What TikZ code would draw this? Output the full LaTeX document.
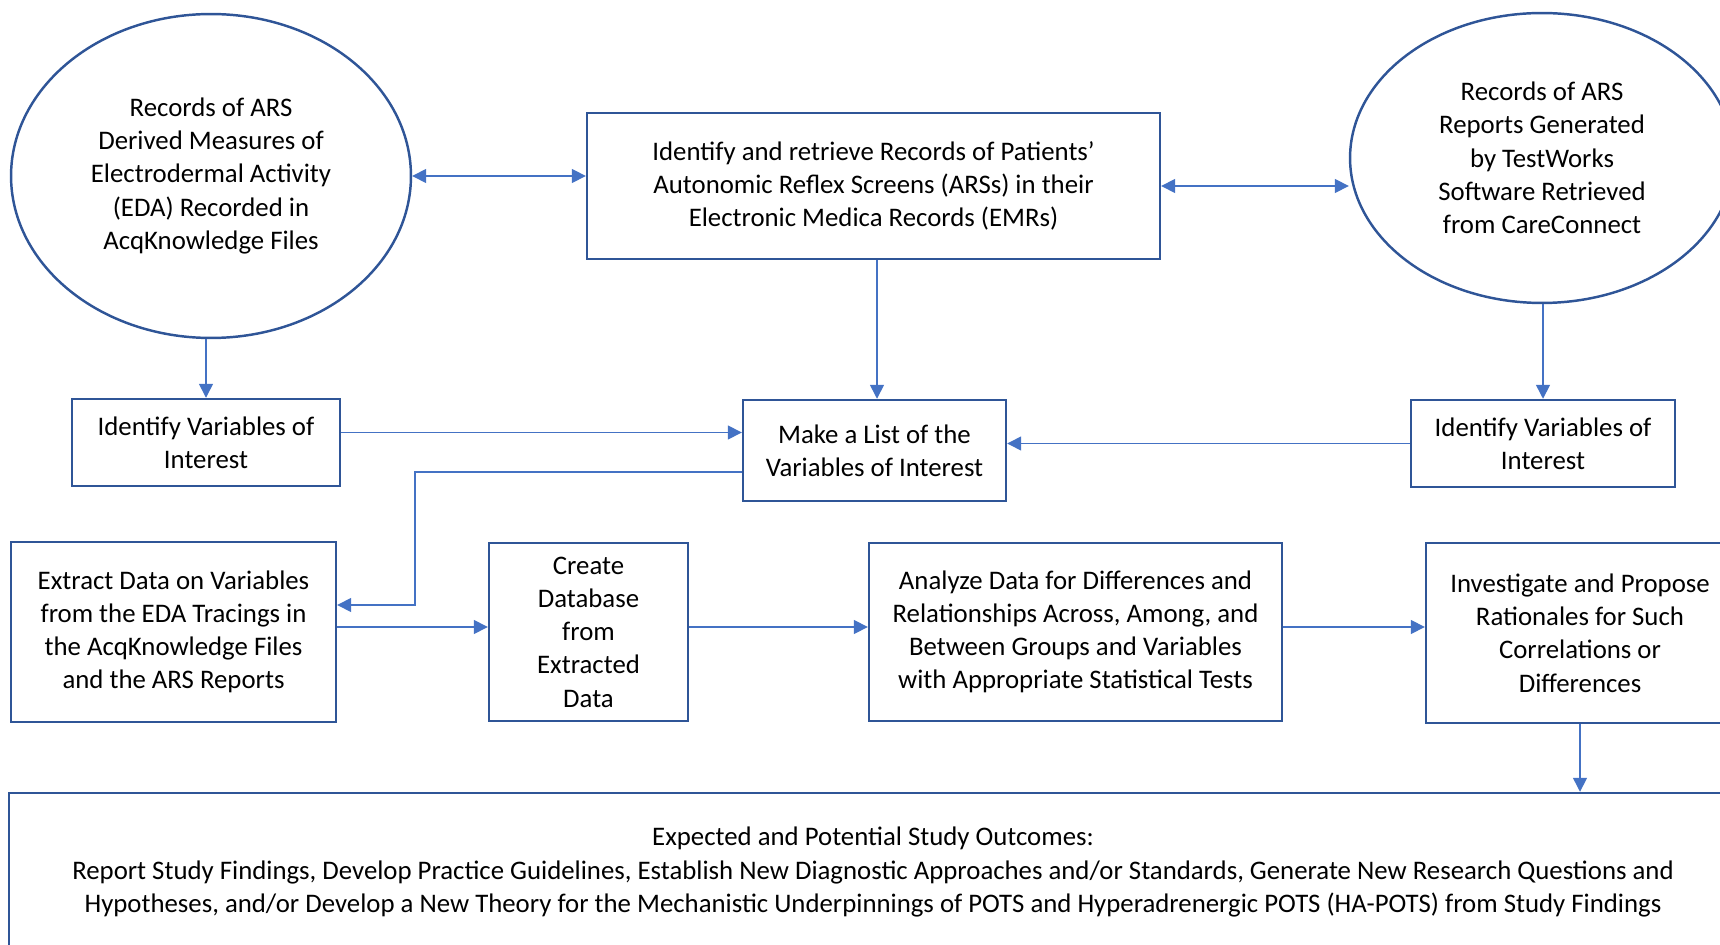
\documentclass[tikz,border=0pt]{standalone}
\usepackage{fontspec}
\setmainfont{Carlito}
\usepackage{xcolor}
\usetikzlibrary{calc,arrows.meta,positioning,shapes.geometric}
\definecolor{boxBlue}{RGB}{47,85,151}
\definecolor{arrowBlue}{RGB}{68,114,196}

\begin{document}
\begin{tikzpicture}[x=0.02cm,y=-0.02cm,
  flowbox/.style={draw=boxBlue, line width=1.4pt, align=center, inner sep=2pt, font=\fontsize{15.25}{18.9}\selectfont},
  recoval/.style={flowbox, ellipse},
  conn/.style={arrowBlue, line width=0.85pt, -{Triangle[length=2.8mm,width=2.8mm]}},
  conn2/.style={arrowBlue, line width=0.85pt, {Triangle[length=2.8mm,width=2.8mm]}-{Triangle[length=2.8mm,width=2.8mm]}}]
\clip (0,0) rectangle (1720,945);
% sources
\node[recoval, minimum width=8cm, minimum height=6.48cm] (recA) at (211,176)
  {Records of ARS\\ Derived Measures of\\ Electrodermal Activity\\ (EDA) Recorded in\\ AcqKnowledge Files};
\node[flowbox, minimum width=11.46cm, minimum height=2.92cm] (retrieve) at (873.5,186)
  {Identify and retrieve Records of Patients’\\ Autonomic Reflex Screens (ARSs) in their\\ Electronic Medica Records (EMRs)};
\node[recoval, minimum width=7.68cm, minimum height=5.8cm] (recB) at (1542,158)
  {Records of ARS\\ Reports Generated\\ by TestWorks\\ Software Retrieved\\ from CareConnect};
% variables
\node[flowbox, minimum width=5.36cm, minimum height=1.74cm] (varA) at (206,442.5)
  {Identify Variables of\\ Interest};
\node[flowbox, minimum width=5.26cm, minimum height=2.02cm] (listvar) at (874.5,450.5)
  {Make a List of the\\ Variables of Interest};
\node[flowbox, minimum width=5.28cm, minimum height=1.74cm] (varB) at (1543,443.5)
  {Identify Variables of\\ Interest};
% processing
\node[flowbox, minimum width=6.5cm, minimum height=3.6cm] (extract) at (173.5,632)
  {Extract Data on Variables\\ from the EDA Tracings in\\ the AcqKnowledge Files\\ and the ARS Reports};
\node[flowbox, minimum width=3.98cm, minimum height=3.56cm] (database) at (588.5,632)
  {Create\\ Database\\ from\\ Extracted\\ Data};
\node[flowbox, minimum width=8.26cm, minimum height=3.56cm] (analyze) at (1075.5,632)
  {Analyze Data for Differences and\\ Relationships Across, Among, and\\ Between Groups and Variables\\ with Appropriate Statistical Tests};
\node[flowbox, minimum width=6.16cm, minimum height=3.6cm] (investigate) at (1580,633)
  {Investigate and Propose\\ Rationales for Such\\ Correlations or\\ Differences};
\node[flowbox, minimum width=34.56cm, minimum height=3.16cm] (outcome) at (873,872)
  {Expected and Potential Study Outcomes:\\ Report Study Findings, Develop Practice Guidelines, Establish New Diagnostic Approaches and/or Standards, Generate New Research Questions and\\ Hypotheses, and/or Develop a New Theory for the Mechanistic Underpinnings of POTS and Hyperadrenergic POTS (HA-POTS) from Study Findings};
% connectors
\draw[conn2] (recA.east) -- (recA.east -| retrieve.west);
\draw[conn2] (retrieve.east) -- (retrieve.east -| recB.west);
\draw[conn] ([xshift=0.07cm]retrieve.south) -- ([xshift=0.07cm]retrieve.south |- listvar.north);
\draw[conn] (varA.north |- recA.south) -- (varA.north);
\draw[conn] (varB.north |- recB.south) -- (varB.north);
\draw[conn] ([yshift=0.2cm]varA.east) -- ([yshift=0.2cm]varA.east -| listvar.west);
\draw[conn] (varB.west) -- (varB.west -| listvar.east);
\coordinate (elbow) at (415,605);
\draw[conn] ([yshift=-0.43cm]listvar.west) -| (elbow) -- (elbow -| extract.east);
\draw[conn] ([yshift=0.1cm]extract.east) -- ([yshift=0.1cm]database.west);
\draw[conn] ([yshift=0.1cm]database.east) -- ([yshift=0.1cm]analyze.west);
\draw[conn] ([yshift=0.1cm]analyze.east) -- ([yshift=0.1cm]analyze.east -| investigate.west);
\draw[conn] (investigate.south) -- (investigate.south |- outcome.north);
\end{tikzpicture}
\end{document}
